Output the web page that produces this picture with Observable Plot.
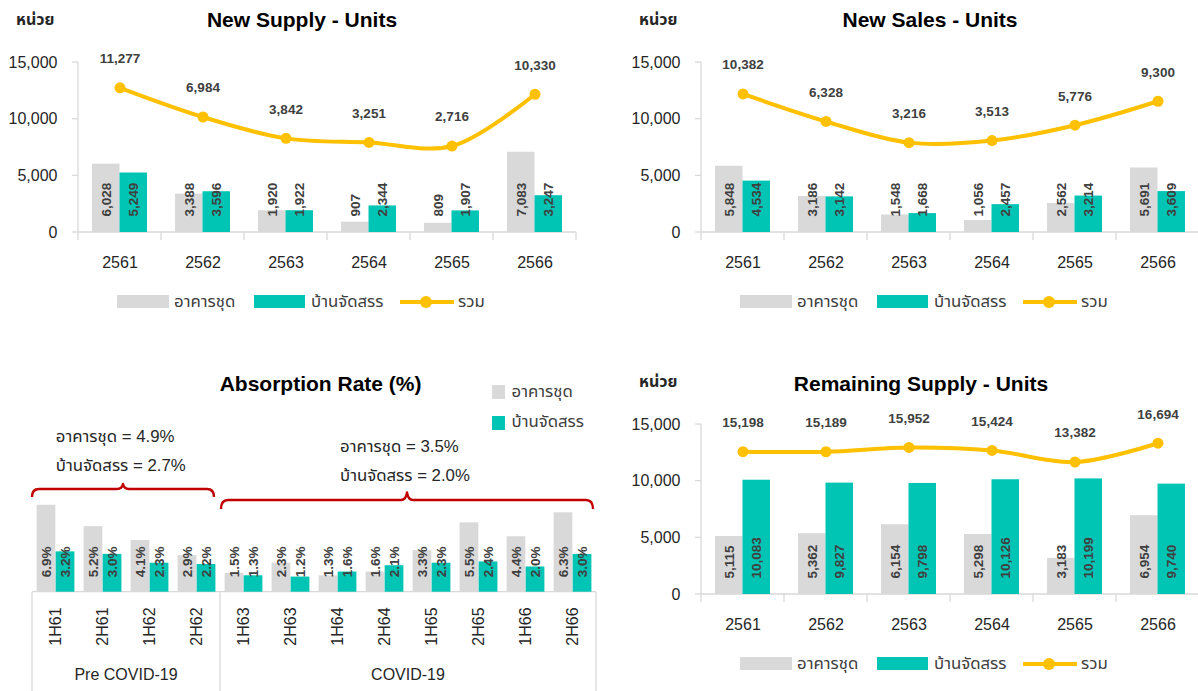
<!DOCTYPE html>
<html>
<head>
<meta charset="utf-8">
<script src="https://cdn.jsdelivr.net/npm/d3@7"></script>
<script src="https://cdn.jsdelivr.net/npm/@observablehq/plot@0.6"></script>
<style>
  body { margin: 0; background: #fff; }
  #root { position: relative; width: 1198px; height: 691px; overflow: hidden; background: #fff;
    font-family: "Liberation Sans", Arial, "Noto Sans Thai", "Noto Sans", "DejaVu Sans", sans-serif; }
  .abs { position: absolute; white-space: nowrap; line-height: 1; }
  .title { font-weight: bold; font-size: 21px; color: #000; transform: translate(-50%, -50%); }
  .unit { font-weight: bold; font-size: 16px; color: #262626; transform: translateY(-50%); }
  .lt { font-size: 16.8px; color: #404040; transform: translateY(-50%); }
  .note { font-size: 16.8px; color: #262626; transform: translateY(-50%); }
  .panel { position: absolute; width: 600px; height: 340px; }
  svg { overflow: visible; }
</style>
</head>
<body>
<div id="root"></div>
<script>
// ---------------- data ----------------
const years = ["2561", "2562", "2563", "2564", "2565", "2566"];
const seriesNames = ["อาคารชุด", "บ้านจัดสรร", "รวม"];
const unitLabel = "หน่วย";

const supplyCondo = [6028, 3388, 1920, 907, 809, 7083];
const supplyHouse = [5249, 3596, 1922, 2344, 1907, 3247];
const supplyTotal = [11277, 6984, 3842, 3251, 2716, 10330];

const salesCondo = [5848, 3186, 1548, 1056, 2562, 5691];
const salesHouse = [4534, 3142, 1668, 2457, 3214, 3609];
const salesTotal = [10382, 6328, 3216, 3513, 5776, 9300];

const remainCondo = [5115, 5362, 6154, 5298, 3183, 6954];
const remainHouse = [10083, 9827, 9798, 10126, 10199, 9740];
const remainTotal = [15198, 15189, 15952, 15424, 13382, 16694];

const yTicks = [0, 5000, 10000, 15000];
// hidden secondary axes used by the total line
const supplySecondary = [-10000, 15000];
const salesSecondary = [-10000, 15000];
const remainSecondary = [-10000, 20000];

const halves = ["1H61", "2H61", "1H62", "2H62", "1H63", "2H63", "1H64", "2H64", "1H65", "2H65", "1H66", "2H66"];
const absCondo = [6.9, 5.2, 4.1, 2.9, 1.5, 2.3, 1.3, 1.6, 3.3, 5.5, 4.4, 6.3];
const absHouse = [3.2, 3.0, 2.3, 2.2, 1.3, 1.2, 1.6, 2.1, 2.3, 2.4, 2.0, 3.0];
const periods = ["Pre COVID-19", "COVID-19"];
const periodSizes = [4, 8];
const periodAvgCondo = [4.9, 3.5];
const periodAvgHouse = [2.7, 2.0];

const titles = ["New Supply - Units", "New Sales - Units", "Absorption Rate (%)", "Remaining Supply - Units"];

// ---------------- styles ----------------
const FONT = '"Liberation Sans", Arial, "Noto Sans Thai", "Noto Sans", "DejaVu Sans", sans-serif';
const C_CONDO = "#D9D9D9", C_HOUSE = "#00C4B4", C_TOTAL = "#FFC000";
const C_AXIS = "#D9D9D9", C_LABEL = "#404040", C_TEXT = "#262626", C_RED = "#C00000";
const fmt = d3.format(",");
const pct = d => d3.format(".1f")(d) + "%";

const root = document.getElementById("root");

function el(parent, cls, style, text) {
  const d = document.createElement("div");
  d.className = "abs " + (cls || "");
  Object.assign(d.style, style);
  if (text != null) d.textContent = text;
  parent.appendChild(d);
  return d;
}

function unitPanel({left, top, title, titleX, titleY, condo, house, total, secDomain}) {
  const panel = el(root, "panel", {left: left + "px", top: top + "px"});
  const rows = years.map((y, i) => ({year: y, condo: condo[i], house: house[i], total: total[i]}));
  const sec = d3.scaleLinear(secDomain, [0, d3.max(yTicks)]);

  const decor = (index, scales) => {
    const {x, y} = scales;
    const dom = x.domain();
    const bw = x.bandwidth();
    const x0 = x(dom[0]), x1 = x(dom[dom.length - 1]) + bw;
    const yb = y(0), yt = y(d3.max(yTicks));
    const g = d3.create("svg:g").attr("stroke", C_AXIS).attr("stroke-width", 1.3).attr("fill", "none");
    g.append("line").attr("x1", x0).attr("x2", x0).attr("y1", yt).attr("y2", yb);
    for (const t of yTicks) g.append("line").attr("x1", x0 - 6).attr("x2", x0).attr("y1", y(t)).attr("y2", y(t));
    g.append("line").attr("x1", x0).attr("x2", x1).attr("y1", yb).attr("y2", yb);
    for (const bx of dom.map(d => x(d)).concat([x1]))
      g.append("line").attr("x1", bx).attr("x2", bx).attr("y1", yb).attr("y2", yb + 8);
    return g.node();
  };

  const chart = Plot.plot({
    width: 600, height: 280,
    marginLeft: 78, marginRight: 24, marginTop: 62, marginBottom: 48,
    style: {fontFamily: FONT, fontSize: "16px", color: C_TEXT, background: "transparent", overflow: "visible"},
    x: {type: "band", domain: years, padding: 0},
    y: {domain: [0, d3.max(yTicks)]},
    marks: [
      decor,
      Plot.axisY({ticks: yTicks, tickSize: 0, tickPadding: 21, tickFormat: fmt, fontSize: 16, fill: C_TEXT, label: null}),
      Plot.axisX({tickSize: 0, tickPadding: 24, fontSize: 16, fill: C_TEXT, label: null}),
      Plot.barY(rows, {x: "year", y: "condo", fill: C_CONDO, insetLeft: 14, insetRight: 41.5}),
      Plot.barY(rows, {x: "year", y: "house", fill: C_HOUSE, insetLeft: 41.5, insetRight: 14}),
      Plot.text(rows, {x: "year", y: () => 0, text: d => fmt(d.condo), rotate: -90, textAnchor: "start",
        dx: -13.75, dy: -16, fontSize: 13.5, fontWeight: "bold", fill: C_LABEL}),
      Plot.text(rows, {x: "year", y: () => 0, text: d => fmt(d.house), rotate: -90, textAnchor: "start",
        dx: 13.75, dy: -16, fontSize: 13.5, fontWeight: "bold", fill: C_LABEL}),
      Plot.line(rows, {x: "year", y: d => sec(d.total), stroke: C_TOTAL, strokeWidth: 4, curve: "catmull-rom"}),
      Plot.dot(rows, {x: "year", y: d => sec(d.total), r: 5.5, fill: C_TOTAL, stroke: null}),
      Plot.text(rows, {x: "year", y: d => sec(d.total), text: d => fmt(d.total), dy: -29,
        fontSize: 13.5, fontWeight: "bold", fill: C_LABEL})
    ]
  });
  chart.style.position = "absolute";
  chart.style.left = "0px";
  chart.style.top = "0px";
  panel.appendChild(chart);

  el(panel, "unit", {left: "16px", top: "20px"}, unitLabel);
  el(panel, "title", {left: titleX + "px", top: titleY + "px"}, title);

  // legend
  const ly = 301.7;
  el(panel, "", {left: "116.5px", top: (ly - 6.5) + "px", width: "52px", height: "13px", background: C_CONDO});
  el(panel, "lt", {left: "174px", top: ly + "px"}, seriesNames[0]);
  el(panel, "", {left: "254px", top: (ly - 6.5) + "px", width: "51px", height: "13px", background: C_HOUSE});
  el(panel, "lt", {left: "311px", top: ly + "px"}, seriesNames[1]);
  el(panel, "", {left: "400px", top: (ly - 2) + "px", width: "54px", height: "4px", background: C_TOTAL});
  el(panel, "", {left: "420px", top: (ly - 6) + "px", width: "12px", height: "12px", background: C_TOTAL, borderRadius: "50%"});
  el(panel, "lt", {left: "458px", top: ly + "px"}, seriesNames[2]);
}

unitPanel({left: 0, top: 0, title: titles[0], titleX: 302, titleY: 19,
  condo: supplyCondo, house: supplyHouse, total: supplyTotal, secDomain: supplySecondary});
unitPanel({left: 623, top: 0, title: titles[1], titleX: 307, titleY: 19,
  condo: salesCondo, house: salesHouse, total: salesTotal, secDomain: salesSecondary});
unitPanel({left: 623, top: 362, title: titles[3], titleX: 298, titleY: 21,
  condo: remainCondo, house: remainHouse, total: remainTotal, secDomain: remainSecondary});

// ---------------- absorption panel ----------------
(function absorption() {
  const rows = halves.map((h, i) => ({half: h, condo: absCondo[i], house: absHouse[i]}));
  const groups = [];
  let start = 0;
  periods.forEach((p, i) => { groups.push({name: p, first: halves[start], last: halves[start + periodSizes[i] - 1]}); start += periodSizes[i]; });

  const braceStyle = [
    {inset0: 0, inset1: 6, yH: 489 - 470, yEnd: 497 - 470, yPeak: 484 - 470},
    {inset0: 1, inset1: 3, yH: 500 - 470, yEnd: 509 - 470, yPeak: 492.5 - 470}
  ];

  const decor = (index, scales, values, dims) => {
    const {x, y} = scales;
    const dom = x.domain();
    const bw = x.bandwidth();
    const x0 = x(dom[0]), x1 = x(dom[dom.length - 1]) + bw;
    const yb = y(0);
    const g = d3.create("svg:g");
    const ax = g.append("g").attr("stroke", C_AXIS).attr("stroke-width", 1.3).attr("fill", "none");
    ax.append("line").attr("x1", x0).attr("x2", x1).attr("y1", yb).attr("y2", yb);
    const bounds = [x0].concat(groups.map(gr => x(gr.last) + bw));
    for (const bx of bounds) ax.append("line").attr("x1", bx).attr("x2", bx).attr("y1", yb).attr("y2", dims.height + 5);
    groups.forEach((gr, i) => {
      const gx0 = x(gr.first), gx1 = x(gr.last) + bw;
      g.append("text").attr("x", (gx0 + gx1) / 2).attr("y", yb + 84)
        .attr("text-anchor", "middle").attr("dominant-baseline", "middle")
        .attr("fill", C_TEXT).attr("font-size", 16).text(gr.name);
      const s = braceStyle[i];
      const a = gx0 + s.inset0, b = gx1 - s.inset1, m = (a + b) / 2, r = 7, r2 = 6;
      const path = `M${a},${s.yEnd} Q${a},${s.yH} ${a + r},${s.yH} L${m - r2},${s.yH} Q${m - 1},${s.yH} ${m},${s.yPeak}`
        + ` Q${m + 1},${s.yH} ${m + r2},${s.yH} L${b - r},${s.yH} Q${b},${s.yH} ${b},${s.yEnd}`;
      g.append("path").attr("d", path).attr("fill", "none").attr("stroke", C_RED).attr("stroke-width", 2.4)
        .attr("stroke-linejoin", "round");
    });
    return g.node();
  };

  const chart = Plot.plot({
    width: 600, height: 221,
    marginLeft: 30, marginRight: 3, marginTop: 20.9, marginBottom: 99.3,
    style: {fontFamily: FONT, fontSize: "16px", color: C_TEXT, background: "transparent", overflow: "visible"},
    x: {type: "band", domain: halves, padding: 0, axis: null},
    y: {domain: [0, 8], axis: null},
    marks: [
      decor,
      Plot.barY(rows, {x: "half", y: "condo", fill: C_CONDO, insetLeft: 4.6, insetRight: 23.65}),
      Plot.barY(rows, {x: "half", y: "house", fill: C_HOUSE, insetLeft: 23.65, insetRight: 4.6}),
      Plot.text(rows, {x: "half", y: () => 0, text: d => pct(d.condo), rotate: -90, textAnchor: "start",
        dx: -9.5, dy: -15, fontSize: 13.5, fontWeight: "bold", fill: C_LABEL}),
      Plot.text(rows, {x: "half", y: () => 0, text: d => pct(d.house), rotate: -90, textAnchor: "start",
        dx: 9.5, dy: -15, fontSize: 13.5, fontWeight: "bold", fill: C_LABEL}),
      Plot.text(halves, {x: d => d, y: () => 0, text: d => d, rotate: -90, dy: 34.3, fontSize: 16, fill: C_TEXT})
    ]
  });
  chart.style.position = "absolute";
  chart.style.left = "0px";
  chart.style.top = "470px";
  root.appendChild(chart);

  el(root, "title", {left: "320.6px", top: "383px"}, titles[2]);
  el(root, "", {left: "491.5px", top: "385px", width: "13.5px", height: "14px", background: C_CONDO});
  el(root, "lt", {left: "511.5px", top: "391.7px"}, seriesNames[0]);
  el(root, "", {left: "491.5px", top: "416px", width: "13.5px", height: "13.5px", background: C_HOUSE});
  el(root, "lt", {left: "511.5px", top: "421.7px"}, seriesNames[1]);
  const noteX = [55.8, 340], noteY = [437, 447];
  periods.forEach((p, i) => {
    el(root, "note", {left: noteX[i] + "px", top: noteY[i] + "px"}, `${seriesNames[0]} = ${pct(periodAvgCondo[i])}`);
    el(root, "note", {left: noteX[i] + "px", top: (noteY[i] + 29) + "px"}, `${seriesNames[1]} = ${pct(periodAvgHouse[i])}`);
  });
})();
</script>
</body>
</html>
